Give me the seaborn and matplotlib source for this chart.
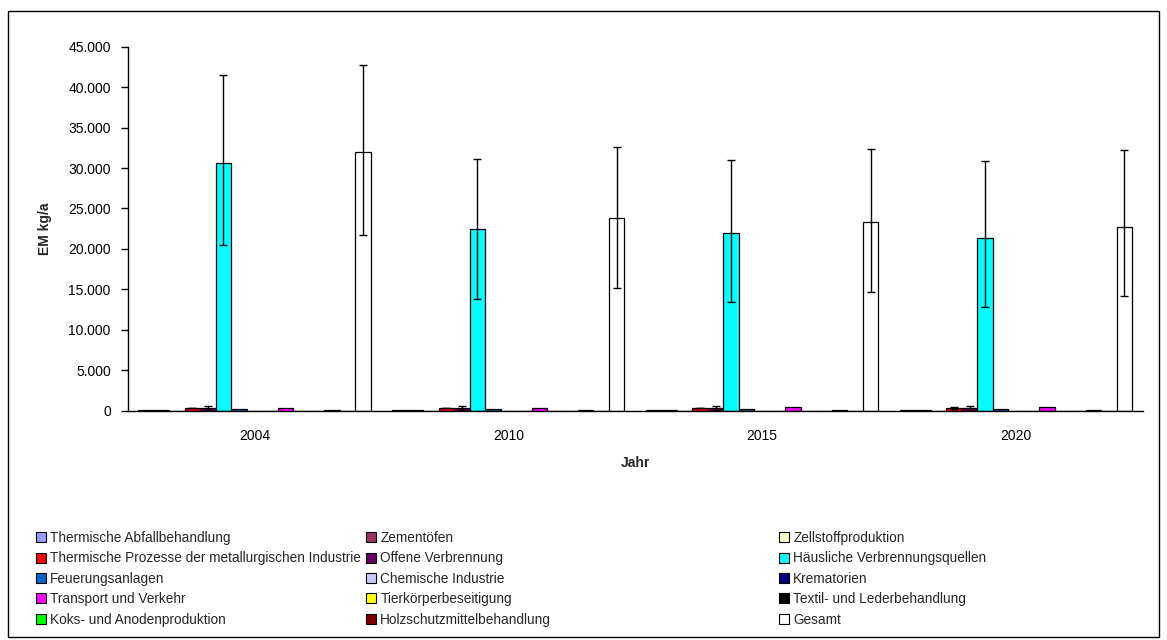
import matplotlib
matplotlib.use("Agg")
import matplotlib.pyplot as plt
from matplotlib.patches import Patch, Rectangle
from matplotlib.ticker import FuncFormatter, FixedLocator
import seaborn as sns
import pandas as pd
import numpy as np

years = ["2004", "2010", "2015", "2020"]

sources = [
    "Thermische Abfallbehandlung", "Zementöfen", "Zellstoffproduktion",
    "Thermische Prozesse der metallurgischen Industrie", "Offene Verbrennung",
    "Häusliche Verbrennungsquellen", "Feuerungsanlagen", "Chemische Industrie",
    "Krematorien", "Transport und Verkehr", "Tierkörperbeseitigung",
    "Textil- und Lederbehandlung", "Koks- und Anodenproduktion",
    "Holzschutzmittelbehandlung", "Gesamt",
]

colors = ["#9999FF", "#993366", "#FFFFCC", "#FF0000", "#660066", "#00FFFF",
          "#0066CC", "#CCCCFF", "#000080", "#FF00FF", "#FFFF00", "#000000",
          "#00FF00", "#800000", "#FFFFFF"]

thermische_abfall = [60, 90, 80, 90]
zementoefen = [40, 50, 50, 50]
zellstoff = [10, 10, 10, 10]
metallurgie = [300, 320, 300, 330]
offene_verbrennung = [320, 320, 320, 330]
haeusliche = [30570, 22420, 21970, 21350]
feuerung = [150, 150, 160, 150]
chemie = [20, 20, 20, 20]
krematorien = [20, 20, 20, 20]
transport = [300, 360, 440, 430]
tierkoerper = [10, 10, 10, 10]
textil = [20, 20, 20, 20]
koks = [100, 100, 30, 30]
holzschutz = [20, 20, 20, 20]
gesamt = [31930, 23790, 23330, 22750]

values = [thermische_abfall, zementoefen, zellstoff, metallurgie,
          offene_verbrennung, haeusliche, feuerung, chemie, krematorien,
          transport, tierkoerper, textil, koks, holzschutz, gesamt]

# error bar bounds (lower, upper) where visible
err_bounds = {
    "Offene Verbrennung": ([80, 80, 50, 60], [560, 560, 600, 600]),
    "Thermische Prozesse der metallurgischen Industrie": ([300, 320, 300, 210], [300, 320, 300, 450]),
    "Häusliche Verbrennungsquellen": ([20520, 13810, 13400, 12780], [41530, 31150, 30990, 30830]),
    "Gesamt": ([21700, 15210, 14710, 14140], [42770, 32600, 32400, 32230]),
}

rows = []
for s, vals in zip(sources, values):
    for y, v in zip(years, vals):
        rows.append({"Jahr": y, "Quelle": s, "Wert": v})
df = pd.DataFrame(rows)

sns.set_theme(style="white")
plt.rcParams["font.family"] = ["Liberation Sans", "DejaVu Sans"]

W, H = 1167, 640
fig = plt.figure(figsize=(W / 100, H / 100), dpi=100)
ax_l, ax_r, ax_t, ax_b = 127.5, 1143, 46.7, 410.7
ax = fig.add_axes([ax_l / W, 1 - ax_b / H, (ax_r - ax_l) / W, (ax_b - ax_t) / H])

sns.barplot(data=df, x="Jahr", y="Wert", hue="Quelle", order=years,
            hue_order=sources, palette=colors, errorbar=None, width=0.915,
            edgecolor="black", linewidth=0.9, ax=ax, legend=False, saturation=1)

for cont, s in zip(ax.containers, sources):
    if s in err_bounds:
        lo, hi = err_bounds[s]
        xs = [b.get_x() + b.get_width() / 2 for b in cont]
        hs = [b.get_height() for b in cont]
        yerr = np.array([[h - l for h, l in zip(hs, lo)], [u - h for h, u in zip(hs, hi)]])
        ax.errorbar(xs, hs, yerr=yerr, fmt="none", ecolor="black",
                    elinewidth=1, capsize=3.2, capthick=1, zorder=5)

ax.set_ylim(0, 45000)
ax.set_xlim(-0.5, 3.5)
ax.set_yticks(np.arange(0, 45001, 5000))
ax.yaxis.set_major_formatter(FuncFormatter(lambda v, p: f"{int(v):,}".replace(",", ".")))
ax.xaxis.set_minor_locator(FixedLocator([-0.5, 0.5, 1.5, 2.5, 3.5]))
ax.tick_params(axis="x", which="major", length=0, pad=13, labelsize=10, colors="black")
ax.tick_params(axis="x", which="minor", length=5, width=1, direction="out", color="black")
ax.tick_params(axis="y", length=5, width=1, direction="out", pad=7, labelsize=10,
               colors="black", left=True)
for sp in ["top", "right"]:
    ax.spines[sp].set_visible(False)
for sp in ["left", "bottom"]:
    ax.spines[sp].set_color("black")
    ax.spines[sp].set_linewidth(1)

ax.set_xlabel("Jahr", fontsize=10, fontweight="bold")
ax.xaxis.set_label_coords(0.5, -0.125)
ax.set_ylabel("EM kg/a", fontsize=10, fontweight="bold")
ax.yaxis.set_label_coords(-0.074, 0.5)

# legend in three columns, row-major order as in the reference
handles = [Patch(facecolor=c, edgecolor="black", linewidth=0.8) for c in colors]
col_x = [36, 366, 779]
legend_top = 531
for ci in range(3):
    idx = list(range(ci, len(sources), 3))
    leg = fig.legend([handles[i] for i in idx], [sources[i] for i in idx],
                     loc="upper left", bbox_to_anchor=(col_x[ci] / W, 1 - legend_top / H),
                     frameon=False, fontsize=9.8, handlelength=0.75, handleheight=0.75,
                     handletextpad=0.3, labelspacing=0.47, borderpad=0, borderaxespad=0)

fig.patches.append(Rectangle((8 / W, 1 - 637 / H), (1159 - 8) / W, (637 - 11) / H,
                             transform=fig.transFigure, fill=False, edgecolor="black",
                             linewidth=1))

fig.savefig("out.png", dpi=100)
